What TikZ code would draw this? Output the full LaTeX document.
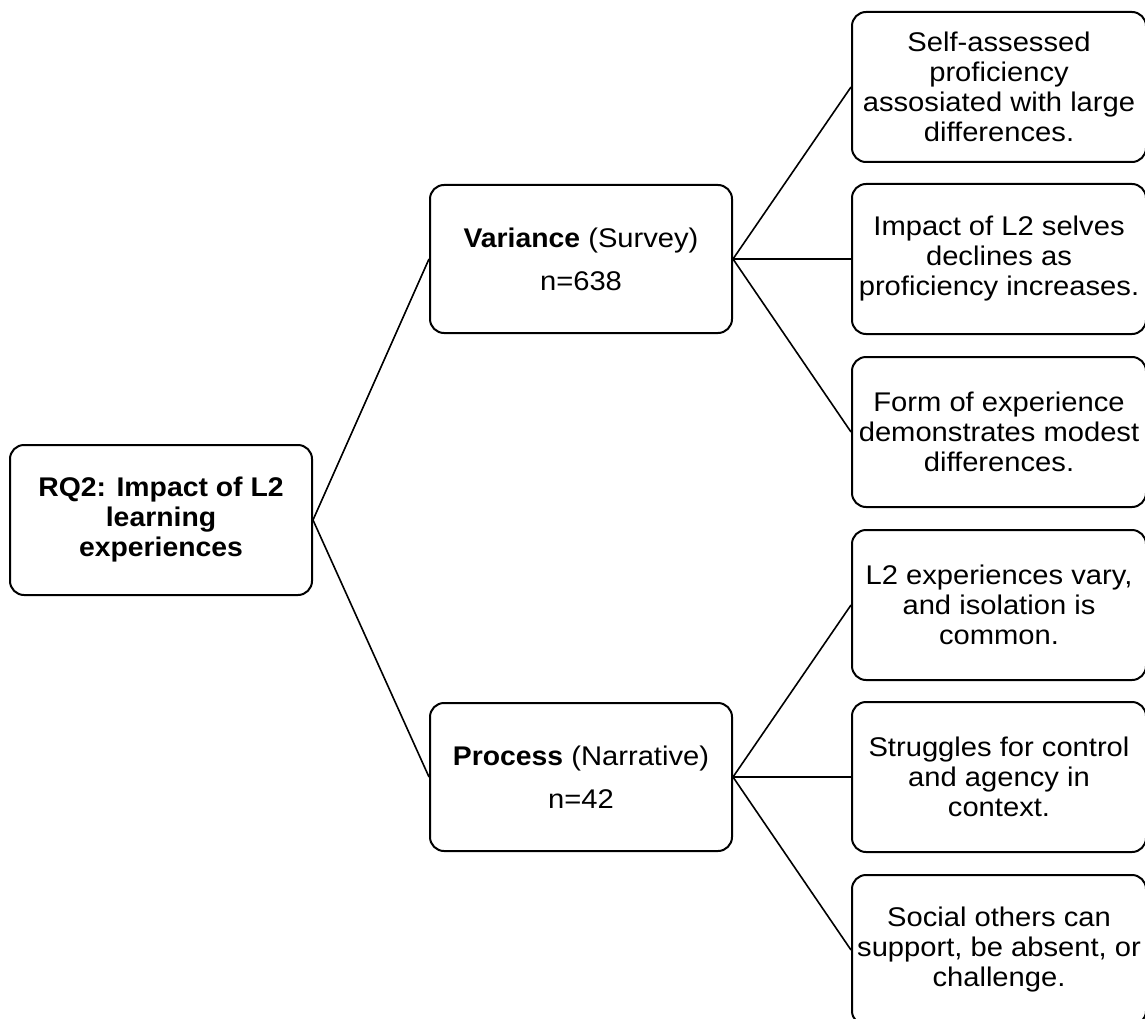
\documentclass[tikz,border=0pt]{standalone}
\usepackage{fontspec}
\setmainfont{Liberation Sans}[FakeStretch=1.08, BoldFeatures={FakeStretch=1.05}]
\begin{document}
\begin{tikzpicture}[x=1pt,y=-1pt,
  box/.style={draw=black, line width=2pt, rounded corners=14pt, fill=white,
    align=center, inner sep=0pt, font=\fontsize{27}{30}\selectfont},
  rootbox/.style={box, minimum width=302pt, minimum height=150pt, font=\bfseries\fontsize{27}{30}\selectfont},
  midbox/.style={box, minimum width=302pt, minimum height=148pt},
  leafbox/.style={box, minimum width=294pt, minimum height=150pt},
  link/.style={draw=black, line width=1.6pt}]
\useasboundingbox (0,0) rectangle (1145,1019);
\clip (0,0) rectangle (1145,1019);

% root question
\node[rootbox] (rq) at (161,520) {RQ2: Impact of L2\\learning\\experiences};

% the two strands
\node[midbox] (var) at (581,259) {\textbf{Variance} (Survey)\\[13pt]n=638};
\node[midbox] (proc) at (581,777) {\textbf{Process} (Narrative)\\[13pt]n=42};

% findings
\node[leafbox] (f1) at (999,87)  {Self-assessed\\proficiency\\assosiated with large\\differences.};
\node[leafbox] (f2) at (999,259) {Impact of L2 selves\\declines as\\proficiency increases.};
\node[leafbox] (f3) at (999,432) {Form of experience\\demonstrates modest\\differences.};
\node[leafbox] (f4) at (999,605) {L2 experiences vary,\\and isolation is\\common.};
\node[leafbox] (f5) at (999,777) {Struggles for control\\and agency in\\context.};
\node[leafbox] (f6) at (999,950) {Social others can\\support, be absent, or\\challenge.};

% connectors
\draw[link] (rq.east) -- (var.west);
\draw[link] (rq.east) -- (proc.west);
\foreach \f in {f1,f2,f3} \draw[link] (var.east) -- (\f.west);
\foreach \f in {f4,f5,f6} \draw[link] (proc.east) -- (\f.west);
\end{tikzpicture}
\end{document}
